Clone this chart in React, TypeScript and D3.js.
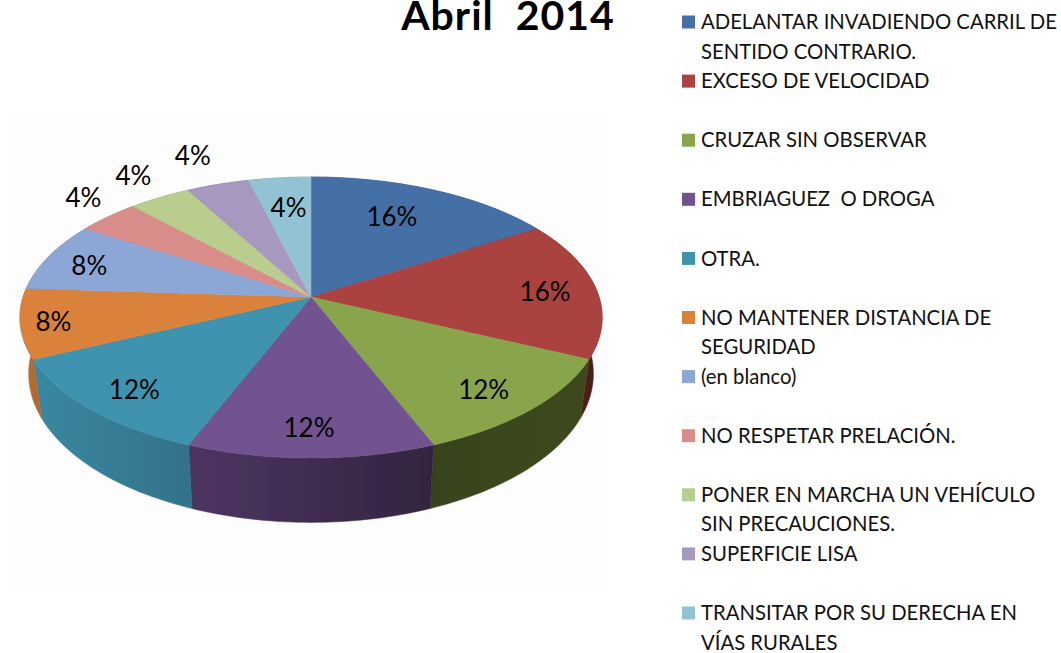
import React from "react";
import * as d3 from "d3";

const title = "Abril  2014";
const categories = [
  ["ADELANTAR INVADIENDO CARRIL DE", "SENTIDO CONTRARIO."],
  ["EXCESO DE VELOCIDAD"],
  ["CRUZAR SIN OBSERVAR"],
  ["EMBRIAGUEZ  O DROGA"],
  ["OTRA."],
  ["NO MANTENER DISTANCIA DE", "SEGURIDAD"],
  ["(en blanco)"],
  ["NO RESPETAR PRELACIÓN."],
  ["PONER EN MARCHA UN VEHÍCULO", "SIN PRECAUCIONES."],
  ["SUPERFICIE LISA"],
  ["TRANSITAR POR SU DERECHA EN", "VÍAS RURALES"],
];
const values = [16, 16, 12, 12, 12, 8, 8, 4, 4, 4, 4];
const topColors = ["#456fa6", "#aa4341", "#89a54c", "#71528f", "#3f93ae", "#da813a", "#8ca6d6", "#d98d8b", "#b8cd8e", "#a798c0", "#92c2d3"];
const sideStart = ["#2e4a70", "#6a2422", "#3d4a1c", "#33243f", "#33728a", "#b06a30", "#7389b0", "#b07472", "#94a574", "#88799c", "#779fae"];
const sideEnd = ["#2e4a70", "#4f1a18", "#39431a", "#4d3563", "#3a88a0", "#bd7434", "#7389b0", "#b07472", "#94a574", "#88799c", "#779fae"];
const labelNudgeX = [-14, 20, 12, -2, -16, -41, -23, -72, -61, -46, 2];
const labelNudgeY = [2, 1.5, 11, 15, 11, 5, 0, -38, -44, -54, 3];

const cx = 311, cy = 297, R = 288, A = 137.5, P = 0.146, H = 55, SHRINK = 0.97;

function project(theta: number, f = 1, drop = 0, shrink = 1): [number, number] {
  const u = Math.sin(theta) * f, v = Math.cos(theta) * f;
  const d = 1 + P * v;
  return [cx + (R * u * shrink) / d, cy + (-A * v + drop) / d];
}

const line = d3.line();
const arcs = d3.pie<number>().sort(null)(values);

function arcPts(a0: number, a1: number, drop = 0, shrink = 1): [number, number][] {
  const n = Math.max(2, Math.ceil((a1 - a0) / 0.02));
  return d3.range(n + 1).map((i) => project(a0 + ((a1 - a0) * i) / n, 1, drop, shrink));
}

const lineStep = 29.55;
const legendY = d3.scaleLinear().domain([0, 1]).range([22, 22 + lineStep]);
const legendRow = (i: number) => i * 2;

export default function App() {
  return (
    <svg width={1061} height={653} style={{ position: "absolute", left: 0, top: 0, background: "#fff" }}>
      <defs>
        {arcs.map((a, i) => {
          const [x0] = project(a.startAngle);
          const [x1] = project(a.endAngle);
          return (
            <linearGradient key={i} id={`side${i}`} gradientUnits="userSpaceOnUse" x1={x0} x2={x1} y1={0} y2={0}>
              <stop offset="0" stopColor={sideStart[i]} />
              <stop offset="1" stopColor={sideEnd[i]} />
            </linearGradient>
          );
        })}
        <filter id="soft" x="-5%" y="-5%" width="110%" height="110%">
          <feGaussianBlur stdDeviation="0.6" />
        </filter>
      </defs>
      <rect x={8} y={112} width={600} height={480} fill="#fdfdfd" />
      <g filter="url(#soft)">
        {arcs.map((a, i) => {
          const top = arcPts(a.startAngle, a.endAngle);
          const bottom = arcPts(a.startAngle, a.endAngle, H, SHRINK).reverse();
          return <path key={i} d={line([...top, ...bottom])! + "Z"} fill={`url(#side${i})`} stroke={`url(#side${i})`} strokeWidth={0.5} />;
        })}
        {arcs.map((a, i) => (
          <path
            key={i}
            d={line([project(0, 0), ...arcPts(a.startAngle, a.endAngle)])! + "Z"}
            fill={topColors[i]}
            stroke={topColors[i]}
            strokeWidth={0.5}
          />
        ))}
      </g>
      {arcs.map((a, i) => {
        const [x, y] = project((a.startAngle + a.endAngle) / 2, 0.75);
        return (
          <text key={i} x={x + labelNudgeX[i]} y={y + labelNudgeY[i]} dy="0.35em" textAnchor="middle" fontFamily="Lato" fontSize={26} fill="#000">
            {`${values[i]}%`}
          </text>
        );
      })}
      <text x={508} y={29.5} textAnchor="middle" fontFamily="Lato" fontWeight="bold" fontSize={41} letterSpacing={1} fill="#000" style={{ whiteSpace: "pre" }}>
        {title}
      </text>
      {categories.map((lines, i) => (
        <g key={i}>
          <rect x={682} y={legendY(legendRow(i)) - 6.5} width={13} height={13} fill={topColors[i]} />
          {lines.map((t, j) => (
            <text key={j} x={701} y={legendY(legendRow(i) + j)} dy="0.35em" fontFamily="Lato" fontSize={20.3} fill="#111" style={{ whiteSpace: "pre" }}>
              {t}
            </text>
          ))}
        </g>
      ))}
    </svg>
  );
}
